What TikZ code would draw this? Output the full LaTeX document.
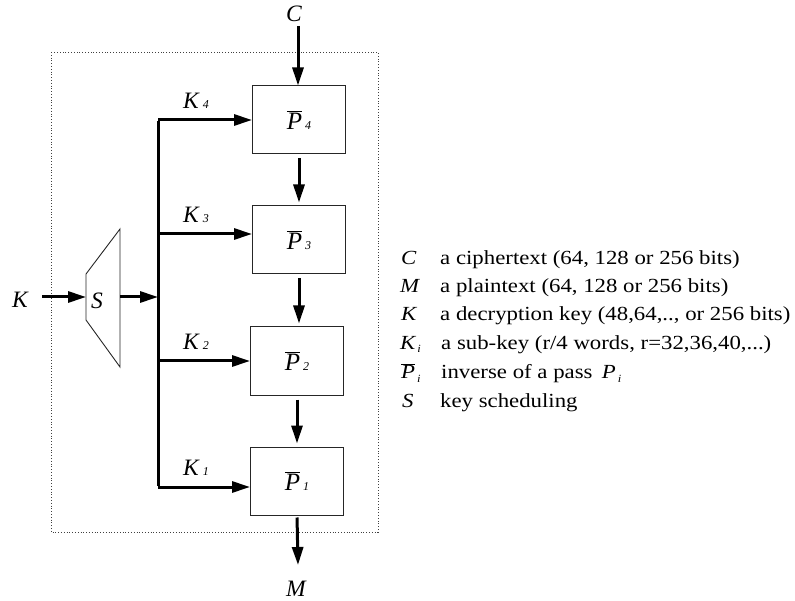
\documentclass[tikz,border=0pt]{standalone}
\usepackage{fontspec}
\setmainfont{Liberation Serif}
\newfontfamily\legfont[FakeStretch=1.14]{Liberation Serif}
\usetikzlibrary{arrows.meta}
\newcommand\myPbar[2]{{\fontsize{#1}{#1}\selectfont\itshape$\overline{\hbox{P}}$}}
\newcommand\mysub[2]{{\fontsize{#1}{#1}\selectfont\itshape #2}}
\begin{document}
\begin{tikzpicture}[x=1pt,y=-1pt,
  arr/.style={line width=3pt,-{Triangle[length=18pt,width=11pt]}},
  pbox/.style={draw=black!85,line width=1pt,minimum width=93pt,minimum height=68pt,inner sep=0pt},
  lab/.style={font=\fontsize{23.5}{24}\selectfont\itshape,anchor=base west,inner sep=0pt},
  leg/.style={font=\legfont\fontsize{20}{22}\selectfont,anchor=base west,inner sep=0pt},
  legsym/.style={font=\legfont\fontsize{20}{22}\selectfont\itshape,anchor=base west,inner sep=0pt},
]
\useasboundingbox (0,0) rectangle (795,601);
\draw[dotted,line width=0.8pt,black!75] (51,52) rectangle (378,532);

% boxes
\node[pbox] (p4) at (299,120) {\myPbar{25}{}\hspace{3pt}\mysub{12}{4}};
\node[pbox] (p3) at (299,240) {\myPbar{25}{}\hspace{3pt}\mysub{12}{3}};
\node[pbox] (p2) at (297,361) {\myPbar{25}{}\hspace{3pt}\mysub{12}{2}};
\node[pbox] (p1) at (297,481) {\myPbar{25}{}\hspace{3pt}\mysub{12}{1}};

% C and M
\node[lab] (c) at (286,22) {C};
\node[lab] (m) at (286,596) {M};
\coordinate (ctop) at (298,26);
\coordinate (mbot) at (298,565);
\draw[arr] (ctop) -- (ctop |- p4.north) ;
\draw[arr,shorten <=4pt,shorten >=3pt] (p4.south) -- (p3.north);
\draw[arr,shorten <=4pt,shorten >=3pt] (p3.south) -- (p3.south |- p2.north);
\draw[arr,shorten <=4pt,shorten >=3pt] (p2.south) -- (p1.north);
\draw[arr,shorten <=2pt] (p1.south) -- (mbot);

% key bus
\coordinate (k4) at (158,120);
\coordinate (k3) at (158,234);
\coordinate (k2) at (158,361);
\coordinate (k1) at (158,487);
\draw[line width=3pt] ([yshift=-1.5pt]k4) -- ([yshift=1.5pt]k1);
\draw[arr] (k4) -- (k4 -| p4.west);
\draw[arr] (k3) -- (k3 -| p3.west);
\draw[arr] (k2) -- (k2 -| p2.west);
\draw[arr] (k1) -- (k1 -| p1.west);
\node[lab] (lk4) at (183,109) {K\hspace{4pt}\mysub{12}{4}};
\node[lab] (lk3) at (183,223) {K\hspace{4pt}\mysub{12}{3}};
\node[lab] (lk2) at (183,350) {K\hspace{4pt}\mysub{12}{2}};
\node[lab] (lk1) at (183,475) {K\hspace{4pt}\mysub{12}{1}};

% key scheduling
\draw[line width=0.9pt,black!85] (86,274) -- (120,229) -- (120,367) -- (86,320) -- cycle;
\coordinate (sin) at (86,297);
\coordinate (sout) at (120,297);
\coordinate (kin) at (42,297);
\node[lab] (s) at (91,309) {S};
\node[lab] (k) at (12,308) {K};
\draw[arr] (kin) -- (sin);
\draw[arr] (sout) -- (sout -| k3);

% legend
\node[legsym] (l1s) at (401,265) {C};
\node[legsym] (l2s) at (400,293) {M};
\node[legsym] (l3s) at (401,321) {K};
\node[legsym] (l4s) at (400,350) {K\hspace{2pt}\raisebox{-3pt}{\mysub{11}{i}}};
\node[legsym] (l5s) at (401,379) {{\fontsize{20}{20}\selectfont\itshape$\overline{\hbox{P}}$}\hspace{2pt}\raisebox{-3pt}{\mysub{11}{i}}};
\node[legsym] (l6s) at (402,407) {S};
\node[leg] (l1) at (440,265) {a ciphertext (64, 128 or 256 bits)};
\node[leg] (l2) at (440,293) {a plaintext (64, 128 or 256 bits)};
\node[leg] (l3) at (440,321) {a decryption key (48,64,.., or 256 bits)};
\node[leg] (l4) at (441,350) {a sub-key (r/4 words, r=32,36,40,...)};
\node[leg] (l5) at (441,379) {inverse of a pass};
\node[legsym,anchor=base west] (l5p) at ([xshift=9pt]l5.base east) {P\hspace{2pt}\raisebox{-3pt}{\mysub{11}{i}}};
\node[leg] (l6) at (440,407) {key scheduling};
\end{tikzpicture}
\end{document}
